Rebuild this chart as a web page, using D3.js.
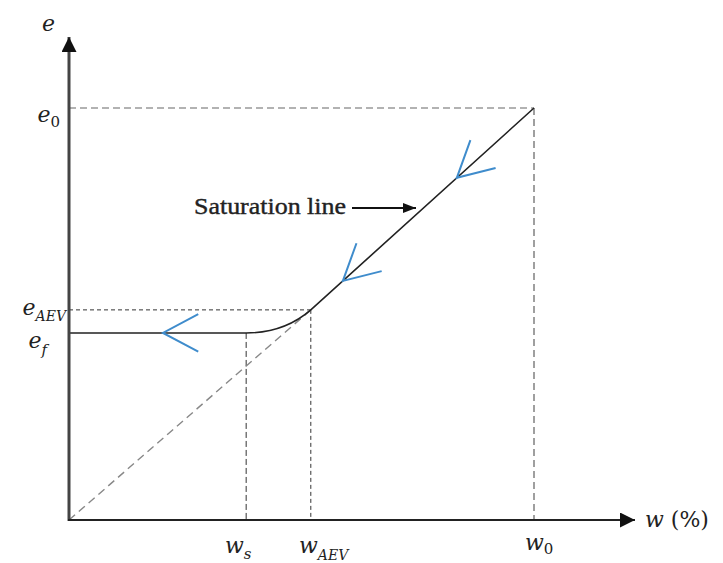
<!DOCTYPE html>
<html>
<head>
<meta charset="utf-8">
<script src="https://cdn.jsdelivr.net/npm/d3@7"></script>
<style>
  body { margin: 0; background: #fff; }
  .math { font-family: "DejaVu Serif", serif; font-style: italic; fill: #222; }
</style>
</head>
<body>
<div id="app"></div>
<script>
// key points of the e-w curve (relative units, w0 = e0 = 100)
const wKeys = { s: 38.1, AEV: 52, w0: 100 };
const eKeys = { f: 45.4, AEV: 51, e0: 100 };
// where the blue direction chevrons sit (w values along the path)
const arrowsAt = [83.4, 58.9, 20.2];
const satLabel = 'Saturation line';

const width = 723;
const height = 563;

const svg = d3.select('#app').append('svg')
  .attr('width', width)
  .attr('height', height);

const x = d3.scaleLinear().domain([0, wKeys.w0]).range([69, 534]);
const y = d3.scaleLinear().domain([0, eKeys.e0]).range([520, 108]);

const defs = svg.append('defs');
defs.append('marker')
  .attr('id', 'ax')
  .attr('viewBox', '0 0 10 10')
  .attr('refX', 10).attr('refY', 5)
  .attr('markerWidth', 15).attr('markerHeight', 15)
  .attr('markerUnits', 'userSpaceOnUse')
  .attr('orient', 'auto')
  .append('path').attr('d', 'M0,0L10,5L0,10Z').attr('fill', '#111');
defs.append('marker')
  .attr('id', 'lab')
  .attr('viewBox', '0 0 10 10')
  .attr('refX', 10).attr('refY', 5)
  .attr('markerWidth', 13).attr('markerHeight', 10)
  .attr('markerUnits', 'userSpaceOnUse')
  .attr('orient', 'auto')
  .attr('preserveAspectRatio', 'none')
  .append('path').attr('d', 'M0,0L10,5L0,10Z').attr('fill', '#111');

// dashed guide lines
const guide = (x1, y1, x2, y2, color, dash, w) => svg.append('line')
  .attr('x1', x1).attr('y1', y1).attr('x2', x2).attr('y2', y2)
  .attr('stroke', color).attr('stroke-width', w).attr('stroke-dasharray', dash);

guide(x(0), y(eKeys.e0), x(wKeys.w0), y(eKeys.e0), '#999', '7,4', 1.6);
guide(x(wKeys.w0), y(eKeys.e0), x(wKeys.w0), y(0), '#777', '7,4', 1.4);
guide(x(0), y(eKeys.AEV), x(wKeys.AEV), y(eKeys.AEV), '#333', '4,3', 1);
guide(x(wKeys.AEV), y(eKeys.AEV), x(wKeys.AEV), y(0), '#333', '4,3', 1);
guide(x(wKeys.s), y(eKeys.f), x(wKeys.s), y(0), '#333', '6,3', 1);
guide(x(0), y(0), x(wKeys.AEV), y(eKeys.AEV), '#888', '8,5', 1.4);

// main curve: horizontal e_f, bend, then saturation line
const wBend = eKeys.f * wKeys.AEV / eKeys.AEV;
const p = d3.path();
p.moveTo(x(0), y(eKeys.f));
p.lineTo(x(wKeys.s), y(eKeys.f));
p.quadraticCurveTo(x(wBend), y(eKeys.f), x(wKeys.AEV), y(eKeys.AEV));
p.lineTo(x(wKeys.w0), y(eKeys.e0));
svg.append('path')
  .attr('d', p.toString())
  .attr('fill', 'none')
  .attr('stroke', '#222')
  .attr('stroke-width', 1.6);

// axes
svg.append('line')
  .attr('x1', x(0)).attr('y1', y(0) + 1)
  .attr('x2', x(0)).attr('y2', 37)
  .attr('stroke', '#444').attr('stroke-width', 3)
  .attr('marker-end', 'url(#ax)');
svg.append('line')
  .attr('x1', x(0) - 1).attr('y1', y(0))
  .attr('x2', 635).attr('y2', y(0))
  .attr('stroke', '#222').attr('stroke-width', 2.2)
  .attr('marker-end', 'url(#ax)');

// blue chevrons showing drying direction
const ePath = w => {
  if (w <= wKeys.s) return eKeys.f;
  return eKeys.AEV + (w - wKeys.AEV) * (eKeys.e0 - eKeys.AEV) / (wKeys.w0 - wKeys.AEV);
};
const armLen = 40;
const armAng = 28 * Math.PI / 180;
arrowsAt.forEach(w => {
  const tx = x(w), ty = y(ePath(w));
  const dx = x(w + 1) - tx, dy = y(ePath(w + 1)) - ty;
  const base = Math.atan2(dy, dx);
  const arms = [base - armAng, base + armAng].map(a =>
    [tx + armLen * Math.cos(a), ty + armLen * Math.sin(a)]);
  svg.append('path')
    .attr('d', `M${arms[0][0]},${arms[0][1]}L${tx},${ty}L${arms[1][0]},${arms[1][1]}`)
    .attr('fill', 'none')
    .attr('stroke', '#3f8ccc')
    .attr('stroke-width', 2);
});

// saturation line label
svg.append('text')
  .attr('x', 194).attr('y', 214)
  .attr('font-family', '"Liberation Serif", "Times New Roman", serif')
  .attr('font-size', 24)
  .attr('textLength', 152)
  .attr('lengthAdjust', 'spacingAndGlyphs')
  .attr('fill', '#222')
  .attr('stroke', '#222')
  .attr('stroke-width', 0.4)
  .text(satLabel);
svg.append('line')
  .attr('x1', 352).attr('y1', 208)
  .attr('x2', 416).attr('y2', 208)
  .attr('stroke', '#111').attr('stroke-width', 2)
  .attr('marker-end', 'url(#lab)');

// math labels
const mathLabel = (px, py, anchor, main, sub, subSize, subDy) => {
  const t = svg.append('text')
    .attr('class', 'math')
    .attr('x', px).attr('y', py)
    .attr('text-anchor', anchor)
    .attr('font-size', 22);
  t.append('tspan').text(main);
  if (sub) {
    t.append('tspan')
      .attr('font-size', subSize)
      .attr('dy', subDy)
      .attr('font-style', sub === '0' ? 'normal' : 'italic')
      .text(sub);
  }
  return t;
};

mathLabel(42, 31, 'start', 'e');
mathLabel(60, 122, 'end', 'e', '0', 15, 5);
mathLabel(66, 315, 'end', 'e', 'AEV', 14, 6);
mathLabel(47, 348, 'end', 'e', 'f', 15, 7);
mathLabel(225, 553, 'start', 'w', 's', 15, 6);
mathLabel(299, 553, 'start', 'w', 'AEV', 14, 7);
mathLabel(525, 550, 'start', 'w', '0', 15, 4);

const wl = svg.append('text')
  .attr('class', 'math')
  .attr('x', 645).attr('y', 527)
  .attr('font-size', 22);
wl.append('tspan').text('w');
wl.append('tspan').attr('font-style', 'normal').text(' (%)');
</script>
</body>
</html>
